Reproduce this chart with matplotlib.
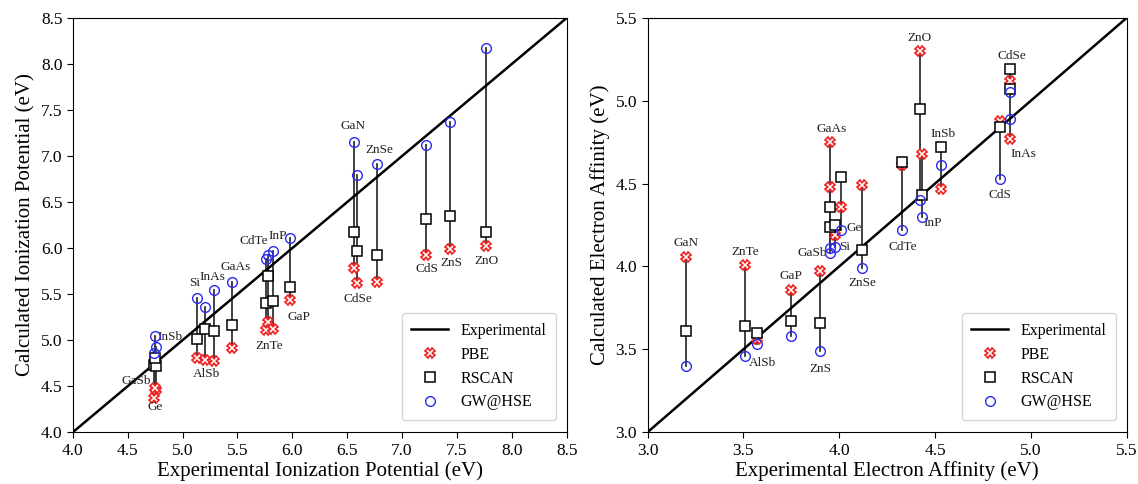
import matplotlib
matplotlib.use("Agg")
import matplotlib.pyplot as plt

plt.rcParams['font.family'] = ['Liberation Serif', 'DejaVu Serif']

# ---------------- Ionization potential data ----------------
ip_materials = ["Ge", "GaSb", "InSb", "Si", "AlSb", "InAs", "GaAs", "ZnTe", "CdTe",
                "InP", "GaP", "GaN", "CdSe", "ZnSe", "CdS", "ZnS", "ZnO"]
ip_exp = [4.74, 4.76, 4.75, 5.13, 5.20, 5.29, 5.45, 5.76, 5.78,
          5.82, 5.98, 6.56, 6.59, 6.77, 7.22, 7.44, 7.76]
ip_pbe = [4.37, 4.46, 4.48, 4.81, 4.78, 4.77, 4.91, 5.11, 5.20,
          5.12, 5.44, 5.78, 5.62, 5.63, 5.92, 5.99, 6.02]
ip_rscan = [4.73, 4.72, 4.81, 5.01, 5.12, 5.10, 5.16, 5.40, 5.70,
            5.43, 5.58, 6.17, 5.97, 5.93, 6.32, 6.35, 6.17]
ip_gw = [4.86, 4.93, 5.05, 5.46, 5.36, 5.55, 5.63, 5.88, 5.93,
         5.97, 6.11, 7.15, 6.79, 6.91, 7.12, 7.37, 8.17]
ip_label_xy = [(4.75, 4.27), (4.58, 4.56), (4.89, 5.03), (5.11, 5.62), (5.22, 4.63),
               (5.27, 5.69), (5.48, 5.79), (5.79, 4.94), (5.65, 6.08), (5.87, 6.13),
               (6.06, 5.25), (6.55, 7.33), (6.60, 5.45), (6.79, 7.07), (7.23, 5.77),
               (7.45, 5.84), (7.77, 5.86)]

# ---------------- Electron affinity data ----------------
ea_materials = ["GaN", "ZnTe", "AlSb", "GaP", "ZnS", "GaAs", "GaSb", "Si", "Ge",
                "ZnSe", "CdTe", "ZnO", "InP", "InSb", "CdS", "CdSe", "InAs"]
ea_exp = [3.20, 3.51, 3.57, 3.75, 3.90, 3.95, 3.95, 3.98, 4.01,
          4.12, 4.33, 4.42, 4.43, 4.53, 4.84, 4.89, 4.89]
ea_pbe = [4.06, 4.01, 3.56, 3.86, 3.97, 4.75, 4.48, 4.19, 4.36,
          4.49, 4.61, 5.30, 4.68, 4.47, 4.88, 5.12, 4.77]
ea_rscan = [3.61, 3.64, 3.60, 3.67, 3.66, 4.36, 4.24, 4.25, 4.54,
            4.10, 4.63, 4.95, 4.43, 4.72, 4.84, 5.19, 5.07]
ea_gw = [3.40, 3.46, 3.53, 3.58, 3.49, 4.11, 4.08, 4.12, 4.22,
         3.99, 4.22, 4.40, 4.30, 4.61, 4.53, 5.05, 4.89]
ea_label_xy = [(3.20, 4.14), (3.51, 4.09), (3.60, 3.42), (3.75, 3.94), (3.90, 3.38),
               (3.96, 4.83), (3.86, 4.08), (4.03, 4.12), (4.08, 4.23), (4.12, 3.90),
               (4.33, 4.12), (4.42, 5.38), (4.49, 4.26), (4.54, 4.80), (4.84, 4.43),
               (4.90, 5.27), (4.96, 4.68)]

fig = plt.figure(figsize=(11.38, 4.84), dpi=100)
ax1 = fig.add_axes([0.064, 0.107, 0.434, 0.856])
ax2 = fig.add_axes([0.569, 0.107, 0.421, 0.856])


def draw(ax, mats, exp, pbe, rscan, gw, lab_xy, lims, xlabel, ylabel):
    ax.plot(lims, lims, color='black', lw=1.8, label='Experimental', zorder=2)
    for x, a, b, c in zip(exp, pbe, rscan, gw):
        lo = min(a, b, c)
        hi = max(a, b, c)
        ax.plot([x, x], [lo, hi], color='#333333', lw=1.3, zorder=1)
    ax.plot(exp, pbe, ls='none', marker='X', ms=7, mfc='white', mec='#ee2222',
            mew=1.2, label='PBE', zorder=3)
    ax.plot(exp, rscan, ls='none', marker='s', ms=7, mfc='white', mec='black',
            mew=1.1, label='RSCAN', zorder=4)
    ax.plot(exp, gw, ls='none', marker='o', ms=7, mfc='none', mec='#2a2aee',
            mew=1.0, label='GW@HSE', zorder=5)
    for m, (lx, ly) in zip(mats, lab_xy):
        ax.text(lx, ly, m, ha='center', va='center', fontsize=9.5, color='#222222')
    ax.set_xlim(lims)
    ax.set_ylim(lims)
    ax.set_xlabel(xlabel, fontsize=15, labelpad=2)
    ax.set_ylabel(ylabel, fontsize=15, labelpad=4)
    ax.tick_params(labelsize=12.5, direction='out', length=4)
    ax.legend(loc='lower right', fontsize=11.5, frameon=True, borderpad=0.6,
              handlelength=2.3, bbox_to_anchor=(0.995, 0.01))


draw(ax1, ip_materials, ip_exp, ip_pbe, ip_rscan, ip_gw, ip_label_xy, [4.0, 8.5],
     'Experimental Ionization Potential (eV)', 'Calculated Ionization Potential (eV)')
draw(ax2, ea_materials, ea_exp, ea_pbe, ea_rscan, ea_gw, ea_label_xy, [3.0, 5.5],
     'Experimental Electron Affinity (eV)', 'Calculated Electron Affinity (eV)')

ax1.set_xticks([4.0, 4.5, 5.0, 5.5, 6.0, 6.5, 7.0, 7.5, 8.0, 8.5])
ax1.set_yticks([4.0, 4.5, 5.0, 5.5, 6.0, 6.5, 7.0, 7.5, 8.0, 8.5])
ax2.set_xticks([3.0, 3.5, 4.0, 4.5, 5.0, 5.5])
ax2.set_yticks([3.0, 3.5, 4.0, 4.5, 5.0, 5.5])
for ax in (ax1, ax2):
    ax.xaxis.set_major_formatter(matplotlib.ticker.FormatStrFormatter('%.1f'))
    ax.yaxis.set_major_formatter(matplotlib.ticker.FormatStrFormatter('%.1f'))

fig.savefig('out.png', dpi=100)
